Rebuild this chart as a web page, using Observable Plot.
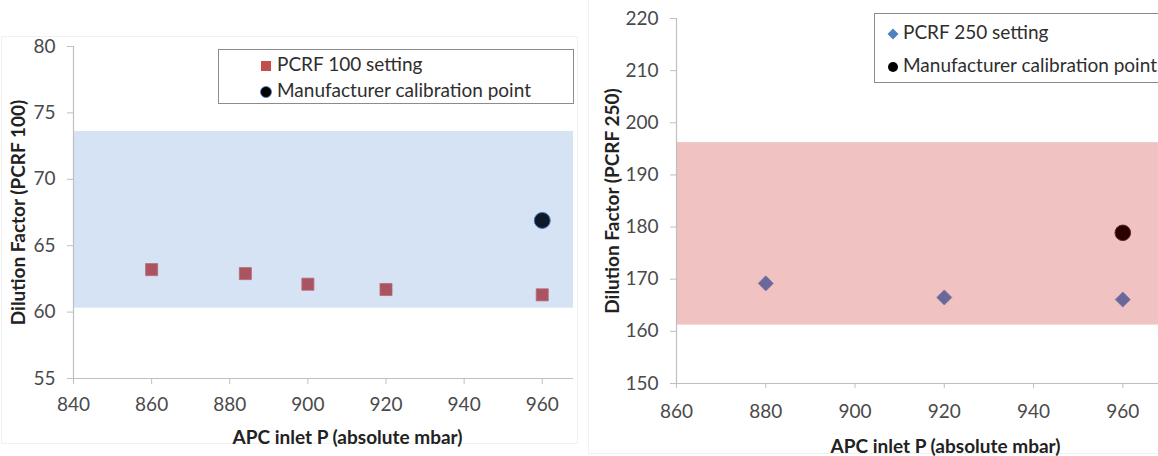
<!DOCTYPE html>
<html>
<head>
<meta charset="utf-8">
<script src="https://cdn.jsdelivr.net/npm/d3@7"></script>
<script src="https://cdn.jsdelivr.net/npm/@observablehq/plot@0.6"></script>
<style>
  html, body { margin: 0; padding: 0; background: #fff; }
  #wrap { position: relative; width: 1158px; height: 456px; overflow: hidden; background: #fff; font-family: Lato, "Open Sans", sans-serif; }
  .panel { position: absolute; top: 0; }
  .frame { position: absolute; box-sizing: border-box; }
  .legend { position: absolute; box-sizing: border-box; border: 1.5px solid #8c8c8c; background: #fff; }
  .row { position: absolute; white-space: nowrap; font-size: 19px; color: #2e2e2e; line-height: 22px; height: 22px; }
  .sym { position: absolute; }
  g[aria-label$="axis tick"] { stroke: #bfbfbf; }
</style>
</head>
<body>
<div id="wrap">
  <div class="frame" style="left:1px;top:36px;width:577px;height:408px;border:1px solid #f0f0f0;"></div>
  <div class="frame" style="left:588px;top:-2px;width:600px;height:456px;border-left:1px solid #f0f0f0;border-bottom:1px solid #f0f0f0;"></div>
  <div class="panel" id="left" style="left:0px;"></div>
  <div class="panel" id="right" style="left:580px;"></div>
</div>
<script>
// ---- Left chart data (PCRF 100) ----
const pressureL = [860, 884, 900, 920, 960];
const dilutionL = [63.2, 62.9, 62.1, 61.7, 61.3];
const calibL = [{p: 960, v: 66.9}];
const bandL = [60.3, 73.6];
const xTicksL = [840, 860, 880, 900, 920, 940, 960];
const yTicksL = [55, 60, 65, 70, 75, 80];
const xTitle = "APC inlet P (absolute mbar)";
const yTitleL = "Dilution Factor (PCRF 100)";
const legendL = ["PCRF 100 setting", "Manufacturer calibration point"];

// ---- Right chart data (PCRF 250) ----
const pressureR = [880, 920, 960];
const dilutionR = [169.2, 166.5, 166.1];
const calibR = [{p: 960, v: 178.9}];
const bandR = [161.2, 196.2];
const xTicksR = [860, 880, 900, 920, 940, 960];
const yTicksR = [150, 160, 170, 180, 190, 200, 210, 220];
const yTitleR = "Dilution Factor (PCRF 250)";
const legendR = ["PCRF 250 setting", "Manufacturer calibration point"];

const tickColor = "#4a4a4a";
const titleColor = "#222222";
const axisLine = "#bfbfbf";

const ptsL = pressureL.map((p, i) => ({p, v: dilutionL[i]}));
const ptsR = pressureR.map((p, i) => ({p, v: dilutionR[i]}));

const baseStyle = {fontFamily: "Lato, sans-serif", fontSize: "19px", color: tickColor, background: "transparent", overflow: "visible"};

const left = Plot.plot({
  width: 580, height: 456,
  marginLeft: 73, marginRight: 7, marginTop: 46, marginBottom: 78,
  style: baseStyle,
  x: {domain: [840, 968]},
  y: {domain: [55, 80]},
  marks: [
    Plot.rect([bandL], {y1: d => d[0], y2: d => d[1], fill: "#d6e3f4"}),
    Plot.axisY(yTicksL, {tickSize: 6, tickPadding: 12, label: null, fontSize: 19}),
    Plot.axisX(xTicksL, {tickSize: 6, tickPadding: 13, label: null, fontSize: 19}),
    Plot.ruleX([840], {stroke: axisLine, strokeWidth: 1.2}),
    Plot.ruleY([55], {stroke: axisLine, strokeWidth: 1.2}),
    Plot.dot(ptsL, {x: "p", y: "v", symbol: "square", r: 6.8, fill: "#aa5462", stroke: "#b86a74", strokeWidth: 0.8}),
    Plot.dot(calibL, {x: "p", y: "v", r: 8, fill: "#0e1a2c", stroke: "#4a78b0", strokeWidth: 1}),
    Plot.text([yTitleL], {frameAnchor: "left", rotate: -90, dx: -55, textAnchor: "middle", lineAnchor: "middle", fontWeight: "bold", fontSize: 19, fill: titleColor}),
    Plot.text([xTitle], {frameAnchor: "bottom", dx: 24, dy: 59, textAnchor: "middle", lineAnchor: "middle", fontWeight: "bold", fontSize: 19, fill: titleColor})
  ]
});
document.getElementById("left").appendChild(left);

const right = Plot.plot({
  width: 578, height: 456,
  marginLeft: 96, marginRight: 0, marginTop: 18, marginBottom: 73,
  style: baseStyle,
  x: {domain: [860, 968]},
  y: {domain: [150, 220]},
  marks: [
    Plot.rect([bandR], {y1: d => d[0], y2: d => d[1], fill: "#f0c2c2"}),
    Plot.axisY(yTicksR, {tickSize: 6, tickPadding: 12, label: null, fontSize: 19}),
    Plot.axisX(xTicksR, {tickSize: 5, tickPadding: 16, label: null, fontSize: 19}),
    Plot.ruleX([860], {stroke: axisLine, strokeWidth: 1.2}),
    Plot.ruleY([150], {stroke: axisLine, strokeWidth: 1.2}),
    Plot.dot(ptsR, {x: "p", y: "v", symbol: "diamond2", r: 6.8, fill: "#6a6799", stroke: "#7a77a8", strokeWidth: 0.8}),
    Plot.dot(calibR, {x: "p", y: "v", r: 7.8, fill: "#2b0000", stroke: "#5a2a2a", strokeWidth: 1}),
    Plot.text([yTitleR], {frameAnchor: "left", rotate: -90, dx: -64, textAnchor: "middle", lineAnchor: "middle", fontWeight: "bold", fontSize: 19, fill: titleColor}),
    Plot.text([xTitle], {frameAnchor: "bottom", dx: 28, dy: 63, textAnchor: "middle", lineAnchor: "middle", fontWeight: "bold", fontSize: 19, fill: titleColor})
  ]
});
document.getElementById("right").appendChild(right);

// ---- Legends (HTML overlays) ----
function legend(parent, box, rows) {
  const el = document.createElement("div");
  el.className = "legend";
  Object.assign(el.style, {left: box.left + "px", top: box.top + "px", width: box.width + "px", height: box.height + "px"});
  rows.forEach(r => {
    const s = document.createElement("div");
    s.className = "sym";
    s.style.left = (r.sx - 7) + "px";
    s.style.top = (r.cy - 7) + "px";
    s.innerHTML = `<svg width="14" height="14" viewBox="-7 -7 14 14">${r.svg}</svg>`;
    el.appendChild(s);
    const t = document.createElement("div");
    t.className = "row";
    t.style.left = r.tx + "px";
    t.style.top = (r.cy - 11) + "px";
    t.textContent = r.label;
    el.appendChild(t);
  });
  parent.appendChild(el);
}
const wrap = document.getElementById("wrap");
legend(wrap, {left: 218, top: 49, width: 356, height: 55}, [
  {label: legendL[0], cy: 14, sx: 46.5, tx: 58, svg: '<rect x="-5" y="-5" width="10" height="10" fill="#c0504d"/>'},
  {label: legendL[1], cy: 40, sx: 46.5, tx: 58, svg: '<circle r="5.5" fill="#000" stroke="#4f81bd" stroke-width="0.8"/>'}
]);
legend(wrap, {left: 874, top: 13, width: 320, height: 70}, [
  {label: legendR[0], cy: 18, sx: 18, tx: 28, svg: '<path d="M0,-5.5L5.5,0L0,5.5L-5.5,0Z" fill="#4f81bd"/>'},
  {label: legendR[1], cy: 51, sx: 18, tx: 28, svg: '<circle r="5" fill="#000"/>'}
]);
</script>
</body>
</html>
